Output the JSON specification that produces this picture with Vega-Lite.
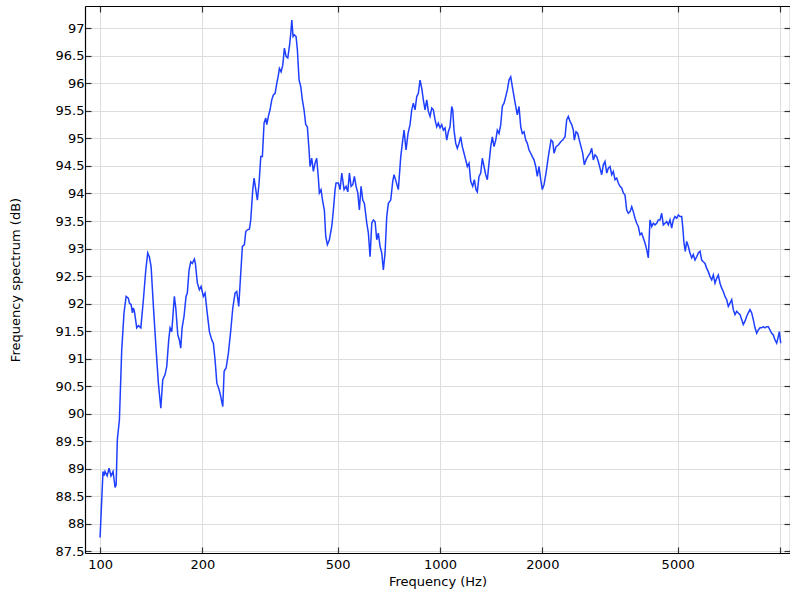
{
  "$schema": "https://vega.github.io/schema/vega-lite/v6.json",
  "autosize": {"type": "none"},
  "padding": {"left": 85, "top": 6, "right": 0, "bottom": 42},
  "width": 705,
  "height": 547,
  "background": "white",
  "config": {
    "view": {"stroke": null},
    "axis": {
      "labelFont": "DejaVu Sans", "labelFontSize": 13, "labelColor": "#000",
      "titleFont": "DejaVu Sans", "titleFontSize": 13, "titleFontWeight": "normal", "titleColor": "#000",
      "gridColor": "#dddddd", "gridWidth": 1, "domainColor": "#000", "domainWidth": 1.2,
      "tickColor": "#333", "tickSize": -6, "tickWidth": 1.2
    }
  },
  "data": {"values": [
    {"f":100,"db":87.75},{"f":102.0,"db":88.95},{"f":102.7,"db":88.87},{"f":103.4,"db":88.95},{"f":104.9,"db":88.87},{"f":106.3,"db":89.01},{"f":107.7,"db":88.87},{"f":109.2,"db":88.95},{"f":110.7,"db":88.66},{"f":111.5,"db":88.71},{"f":112.4,"db":89.53},{"f":114.0,"db":89.89},{"f":115.8,"db":91.16},{"f":117.6,"db":91.83},{"f":119.3,"db":92.13},{"f":121.1,"db":92.10},{"f":122.0,"db":92.01},{"f":123.4,"db":91.98},{"f":124.5,"db":91.83},{"f":125.3,"db":91.92},{"f":126.2,"db":91.86},{"f":128.2,"db":91.56},{"f":129.7,"db":91.60},{"f":131.8,"db":91.56},{"f":134.1,"db":92.07},{"f":136.3,"db":92.61},{"f":138.1,"db":92.92},{"f":139.6,"db":92.85},{"f":141.3,"db":92.67},{"f":143.5,"db":91.95},{"f":146.2,"db":91.16},{"f":148.4,"db":90.56},{"f":150.9,"db":90.10},{"f":152.9,"db":90.62},{"f":155.3,"db":90.71},{"f":157.1,"db":90.86},{"f":159.2,"db":91.34},{"f":160.7,"db":91.56},{"f":162.5,"db":91.49},{"f":165.4,"db":92.13},{"f":167.0,"db":91.92},{"f":169.3,"db":91.43},{"f":171.1,"db":91.34},{"f":172.7,"db":91.19},{"f":174.3,"db":91.56},{"f":176.6,"db":91.77},{"f":179.0,"db":92.13},{"f":180.6,"db":92.19},{"f":182.7,"db":92.61},{"f":184.8,"db":92.76},{"f":186.8,"db":92.73},{"f":189.4,"db":92.81},{"f":190.7,"db":92.73},{"f":193.3,"db":92.37},{"f":195.9,"db":92.25},{"f":198.2,"db":92.31},{"f":201.3,"db":92.13},{"f":203.6,"db":92.19},{"f":206.9,"db":91.80},{"f":209.7,"db":91.49},{"f":213.1,"db":91.34},{"f":215.4,"db":91.28},{"f":217.9,"db":90.98},{"f":220.5,"db":90.56},{"f":223.9,"db":90.44},{"f":226.5,"db":90.31},{"f":229.6,"db":90.13},{"f":231.7,"db":90.77},{"f":234.8,"db":90.83},{"f":238.5,"db":91.10},{"f":242.4,"db":91.52},{"f":245.7,"db":91.92},{"f":249.5,"db":92.19},{"f":252.4,"db":92.22},{"f":255.8,"db":91.95},{"f":259.3,"db":92.55},{"f":262.2,"db":93.04},{"f":265.8,"db":93.07},{"f":268.3,"db":93.31},{"f":271.2,"db":93.34},{"f":274.9,"db":93.35},{"f":277.5,"db":93.52},{"f":281.3,"db":94.07},{"f":283.8,"db":94.28},{"f":287.1,"db":94.07},{"f":290.2,"db":93.88},{"f":293.6,"db":94.19},{"f":297.0,"db":94.67},{"f":300.2,"db":94.67},{"f":303.7,"db":95.28},{"f":307.2,"db":95.37},{"f":309.3,"db":95.25},{"f":312.6,"db":95.40},{"f":316.2,"db":95.52},{"f":319.9,"db":95.70},{"f":323.4,"db":95.79},{"f":327.2,"db":95.82},{"f":331.0,"db":96.00},{"f":334.6,"db":96.15},{"f":336.9,"db":96.27},{"f":340.8,"db":96.21},{"f":344.7,"db":96.33},{"f":348.5,"db":96.64},{"f":352.5,"db":96.49},{"f":356.6,"db":96.46},{"f":360.5,"db":96.67},{"f":363.9,"db":96.91},{"f":366.4,"db":97.15},{"f":369.6,"db":96.85},{"f":372.9,"db":96.88},{"f":377.2,"db":96.85},{"f":380.5,"db":96.61},{"f":384.9,"db":96.06},{"f":389.4,"db":95.94},{"f":393.6,"db":95.70},{"f":398.1,"db":95.52},{"f":402.7,"db":95.25},{"f":407.1,"db":95.21},{"f":411.8,"db":94.79},{"f":414.6,"db":94.49},{"f":419.4,"db":94.64},{"f":424.0,"db":94.40},{"f":428.9,"db":94.55},{"f":433.8,"db":94.64},{"f":438.6,"db":94.28},{"f":441.6,"db":94.01},{"f":446.7,"db":94.07},{"f":451.9,"db":93.85},{"f":456.8,"db":93.70},{"f":461.1,"db":93.22},{"f":466.2,"db":93.07},{"f":472.6,"db":93.16},{"f":480.3,"db":93.40},{"f":485.6,"db":93.70},{"f":491.2,"db":94.07},{"f":494.5,"db":94.19},{"f":502.3,"db":94.19},{"f":508.1,"db":94.07},{"f":514.0,"db":94.37},{"f":522.1,"db":94.07},{"f":529.2,"db":94.13},{"f":535.4,"db":94.03},{"f":541.2,"db":94.37},{"f":547.5,"db":94.13},{"f":553.8,"db":94.16},{"f":559.8,"db":94.31},{"f":566.3,"db":94.13},{"f":572.9,"db":94.01},{"f":579.1,"db":93.70},{"f":585.8,"db":94.13},{"f":592.6,"db":93.88},{"f":599.1,"db":93.82},{"f":608.9,"db":93.46},{"f":615.5,"db":93.28},{"f":622.6,"db":92.85},{"f":629.8,"db":93.46},{"f":636.6,"db":93.52},{"f":644.0,"db":93.49},{"f":651.4,"db":93.16},{"f":658.5,"db":93.28},{"f":666.1,"db":93.04},{"f":673.8,"db":92.92},{"f":681.2,"db":92.61},{"f":689.1,"db":92.92},{"f":697.0,"db":93.58},{"f":704.6,"db":93.82},{"f":716.1,"db":93.88},{"f":725.9,"db":94.22},{"f":732.3,"db":94.34},{"f":742.3,"db":94.22},{"f":754.0,"db":94.07},{"f":766.4,"db":94.67},{"f":776.8,"db":94.97},{"f":783.7,"db":95.15},{"f":794.3,"db":94.79},{"f":805.2,"db":95.09},{"f":816.1,"db":95.25},{"f":825.6,"db":95.52},{"f":834.6,"db":95.64},{"f":844.3,"db":95.52},{"f":854.1,"db":95.76},{"f":863.4,"db":95.82},{"f":873.4,"db":96.06},{"f":883.5,"db":95.91},{"f":893.1,"db":95.70},{"f":903.5,"db":95.52},{"f":913.9,"db":95.70},{"f":923.9,"db":95.49},{"f":934.6,"db":95.40},{"f":945.4,"db":95.55},{"f":955.7,"db":95.52},{"f":966.7,"db":95.34},{"f":977.9,"db":95.21},{"f":988.5,"db":95.28},{"f":1000,"db":95.19},{"f":1011.6,"db":95.25},{"f":1022.6,"db":95.15},{"f":1034.5,"db":95.19},{"f":1046.4,"db":94.97},{"f":1057.8,"db":95.12},{"f":1070.0,"db":95.21},{"f":1082.4,"db":95.58},{"f":1089.7,"db":95.52},{"f":1099.3,"db":95.15},{"f":1112.1,"db":94.91},{"f":1124.2,"db":94.82},{"f":1137.2,"db":94.91},{"f":1150.4,"db":95.03},{"f":1162.9,"db":94.85},{"f":1176.4,"db":94.73},{"f":1190.0,"db":94.61},{"f":1203.0,"db":94.49},{"f":1216.9,"db":94.55},{"f":1231.0,"db":94.22},{"f":1247.8,"db":94.13},{"f":1261.4,"db":94.25},{"f":1276.0,"db":94.07},{"f":1287.3,"db":94.03},{"f":1302.2,"db":94.31},{"f":1317.3,"db":94.37},{"f":1331.6,"db":94.64},{"f":1347.1,"db":94.49},{"f":1362.7,"db":94.34},{"f":1377.5,"db":94.25},{"f":1393.5,"db":94.55},{"f":1409.6,"db":94.85},{"f":1425.0,"db":95.03},{"f":1441.5,"db":94.85},{"f":1458.2,"db":94.97},{"f":1474.0,"db":95.15},{"f":1491.1,"db":95.09},{"f":1508.4,"db":95.25},{"f":1524.8,"db":95.58},{"f":1542.5,"db":95.64},{"f":1560.4,"db":95.76},{"f":1577.4,"db":95.88},{"f":1595.6,"db":96.06},{"f":1614.1,"db":96.12},{"f":1631.7,"db":95.94},{"f":1650.6,"db":95.76},{"f":1669.7,"db":95.58},{"f":1687.9,"db":95.43},{"f":1707.4,"db":95.58},{"f":1727.2,"db":95.21},{"f":1746.0,"db":95.09},{"f":1766.2,"db":95.12},{"f":1786.7,"db":94.97},{"f":1806.1,"db":94.91},{"f":1827.0,"db":94.79},{"f":1848.2,"db":94.73},{"f":1868.3,"db":94.67},{"f":1890.0,"db":94.61},{"f":1911.9,"db":94.49},{"f":1932.7,"db":94.31},{"f":1955.1,"db":94.49},{"f":1977.7,"db":94.25},{"f":1999.2,"db":94.07},{"f":2022.4,"db":94.16},{"f":2050.0,"db":94.37},{"f":2082.2,"db":94.67},{"f":2120.6,"db":94.97},{"f":2145.2,"db":94.94},{"f":2164.2,"db":94.73},{"f":2193.7,"db":94.85},{"f":2228.1,"db":94.88},{"f":2264.6,"db":94.94},{"f":2295.5,"db":94.97},{"f":2331.5,"db":95.03},{"f":2358.5,"db":95.34},{"f":2384.2,"db":95.40},{"f":2411.8,"db":95.31},{"f":2439.7,"db":95.25},{"f":2466.3,"db":95.15},{"f":2483.1,"db":94.97},{"f":2511.9,"db":95.12},{"f":2541.0,"db":95.09},{"f":2568.7,"db":94.97},{"f":2598.4,"db":94.85},{"f":2628.5,"db":94.73},{"f":2657.1,"db":94.52},{"f":2687.9,"db":94.61},{"f":2719.0,"db":94.67},{"f":2761.7,"db":94.73},{"f":2793.7,"db":94.82},{"f":2824.1,"db":94.61},{"f":2856.8,"db":94.70},{"f":2889.9,"db":94.67},{"f":2921.4,"db":94.58},{"f":2955.2,"db":94.46},{"f":2989.4,"db":94.34},{"f":3022.0,"db":94.52},{"f":3057.0,"db":94.58},{"f":3092.4,"db":94.37},{"f":3126.1,"db":94.46},{"f":3162.3,"db":94.49},{"f":3198.9,"db":94.34},{"f":3233.7,"db":94.40},{"f":3271.1,"db":94.25},{"f":3309.0,"db":94.28},{"f":3345.0,"db":94.19},{"f":3383.7,"db":94.13},{"f":3422.9,"db":94.10},{"f":3460.2,"db":94.01},{"f":3500.2,"db":93.97},{"f":3540.8,"db":93.70},{"f":3579.3,"db":93.64},{"f":3620.8,"db":93.67},{"f":3662.7,"db":93.76},{"f":3702.6,"db":93.67},{"f":3745.5,"db":93.55},{"f":3788.8,"db":93.46},{"f":3830.1,"db":93.40},{"f":3874.5,"db":93.25},{"f":3919.3,"db":93.28},{"f":3962.0,"db":93.19},{"f":4007.9,"db":93.10},{"f":4054.3,"db":92.98},{"f":4098.4,"db":92.83},{"f":4145.9,"db":93.52},{"f":4193.9,"db":93.40},{"f":4239.5,"db":93.46},{"f":4288.6,"db":93.43},{"f":4338.2,"db":93.46},{"f":4385.5,"db":93.52},{"f":4436.3,"db":93.52},{"f":4487.7,"db":93.64},{"f":4536.5,"db":93.43},{"f":4589.0,"db":93.46},{"f":4642.1,"db":93.49},{"f":4692.7,"db":93.43},{"f":4747.0,"db":93.52},{"f":4802.0,"db":93.37},{"f":4854.3,"db":93.52},{"f":4910.5,"db":93.58},{"f":4967.3,"db":93.55},{"f":5021.4,"db":93.61},{"f":5079.5,"db":93.58},{"f":5138.3,"db":93.58},{"f":5173.2,"db":93.40},{"f":5219.0,"db":93.10},{"f":5265.1,"db":92.95},{"f":5315.3,"db":93.13},{"f":5373.1,"db":93.04},{"f":5435.4,"db":92.92},{"f":5498.3,"db":92.83},{"f":5558.1,"db":92.89},{"f":5623.4,"db":92.79},{"f":5688.5,"db":92.85},{"f":5750.5,"db":92.92},{"f":5817.1,"db":92.95},{"f":5884.4,"db":92.79},{"f":5948.5,"db":92.76},{"f":6017.3,"db":92.73},{"f":6087.0,"db":92.64},{"f":6153.3,"db":92.58},{"f":6224.6,"db":92.49},{"f":6296.6,"db":92.43},{"f":6365.1,"db":92.52},{"f":6438.8,"db":92.37},{"f":6513.3,"db":92.46},{"f":6584.3,"db":92.52},{"f":6660.5,"db":92.37},{"f":6737.6,"db":92.28},{"f":6811.1,"db":92.22},{"f":6889.9,"db":92.13},{"f":6969.7,"db":92.07},{"f":7045.5,"db":91.95},{"f":7127.0,"db":92.01},{"f":7209.6,"db":92.07},{"f":7288.1,"db":91.89},{"f":7372.5,"db":91.80},{"f":7457.9,"db":91.86},{"f":7539.0,"db":91.83},{"f":7626.3,"db":91.80},{"f":7714.6,"db":91.71},{"f":7798.6,"db":91.62},{"f":7888.9,"db":91.68},{"f":7980.2,"db":91.77},{"f":8067.1,"db":91.83},{"f":8160.4,"db":91.89},{"f":8254.9,"db":91.83},{"f":8344.9,"db":91.71},{"f":8441.5,"db":91.56},{"f":8539.3,"db":91.46},{"f":8632.4,"db":91.52},{"f":8732.3,"db":91.56},{"f":8833.4,"db":91.56},{"f":8929.5,"db":91.58},{"f":9032.9,"db":91.56},{"f":9137.5,"db":91.58},{"f":9237.1,"db":91.58},{"f":9344.1,"db":91.52},{"f":9452.3,"db":91.46},{"f":9555.1,"db":91.43},{"f":9665.8,"db":91.34},{"f":9777.7,"db":91.28},{"f":9884.3,"db":91.40},{"f":9952.7,"db":91.49},{"f":10048,"db":91.28}
  ]},
  "layer": [
    {
      "mark": {"type": "line", "color": "#1f3fff", "strokeWidth": 1.5, "clip": true},
      "encoding": {
        "x": {"field": "f", "type": "quantitative",
          "scale": {"type": "log", "domain": [90.3, 10700], "nice": false},
          "axis": {"orient": "bottom", "title": "Frequency (Hz)", "values": [100, 200, 500, 1000, 2000, 5000, 10000],
            "labelExpr": "datum.value >= 10000 ? '' : format(datum.value, 'd')", "labelPadding": 11, "titlePadding": 4, "labelFlush": false}},
        "y": {"field": "db", "type": "quantitative",
          "scale": {"domain": [87.47, 97.405], "nice": false, "zero": false},
          "axis": {"orient": "left", "title": "Frequency spectrum (dB)", "values": [87.5, 88, 88.5, 89, 89.5, 90, 90.5, 91, 91.5, 92, 92.5, 93, 93.5, 94, 94.5, 95, 95.5, 96, 96.5, 97],
            "format": "~f", "labelPadding": 7, "titlePadding": 33}}
      }
    },
    {
      "mark": {"type": "line", "strokeOpacity": 0},
      "encoding": {
        "x": {"field": "f", "type": "quantitative",
          "axis": {"orient": "top", "title": null, "labels": false, "grid": false, "values": [100, 200, 500, 1000, 2000, 5000, 10000]}},
        "y": {"field": "db", "type": "quantitative",
          "axis": {"orient": "right", "title": null, "labels": false, "grid": false, "values": [87.5, 88, 88.5, 89, 89.5, 90, 90.5, 91, 91.5, 92, 92.5, 93, 93.5, 94, 94.5, 95, 95.5, 96, 96.5, 97]}}
      }
    }
  ],
  "resolve": {"axis": {"x": "independent", "y": "independent"}}
}
